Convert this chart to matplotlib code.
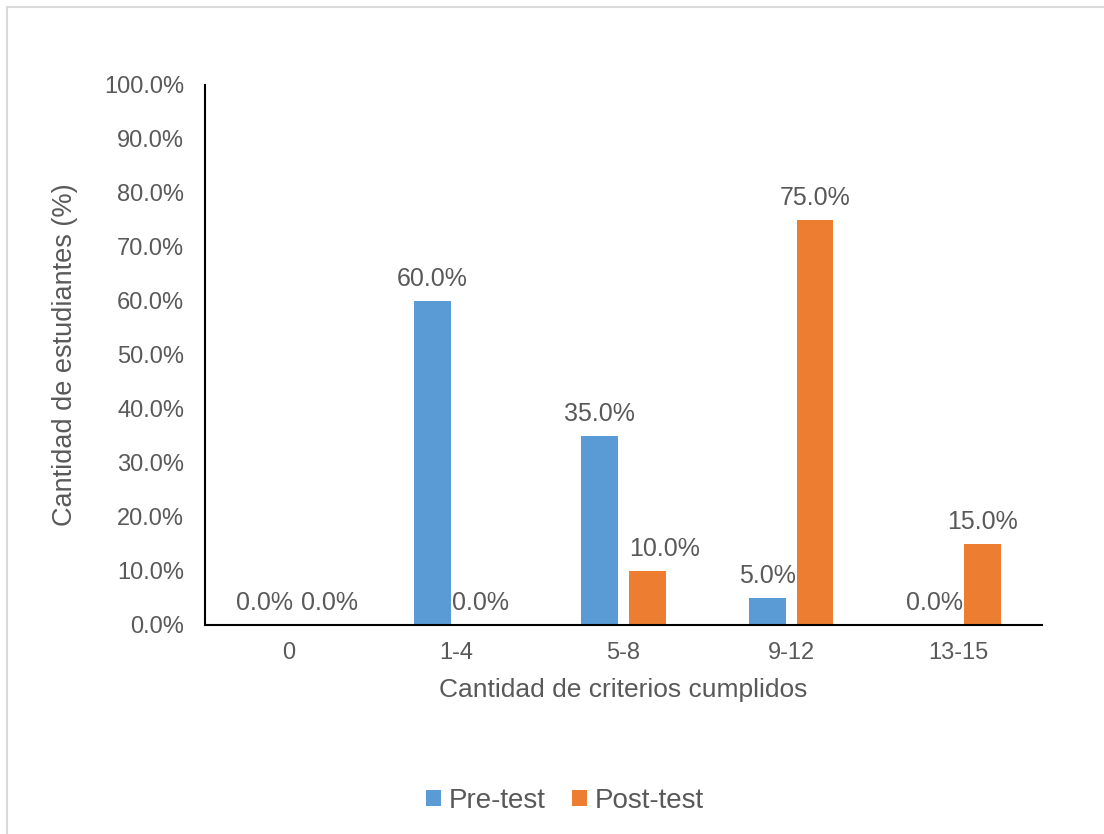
import matplotlib.pyplot as plt
import matplotlib.patches as patches
import matplotlib.ticker as ticker
import numpy as np

plt.rcParams["font.family"] = ["Liberation Sans", "DejaVu Sans"]

# datos
categorias = ["0", "1-4", "5-8", "9-12", "13-15"]
pre_test = [0.0, 60.0, 35.0, 5.0, 0.0]
post_test = [0.0, 0.0, 10.0, 75.0, 15.0]

azul = "#5B9BD5"
naranja = "#ED7D31"
gris = "#595959"

# desplazamiento horizontal (pt) de las etiquetas de Post-test que chocan
ajuste_post = [12, 0, 12, 0, 0]

fig = plt.figure(figsize=(11.04, 8.34), dpi=100)
ax = fig.add_axes([0.1857, 0.2506, 0.7583, 0.6475])

x = np.arange(len(categorias))
ancho = 0.22
b1 = ax.bar(x - 0.143, pre_test, ancho, color=azul, label="Pre-test")
b2 = ax.bar(x + 0.143, post_test, ancho, color=naranja, label="Post-test")

# etiquetas de valor sobre cada barra
for barras, ajustes in ((b1, [0] * len(x)), (b2, ajuste_post)):
    for b, dx in zip(barras, ajustes):
        v = b.get_height()
        ax.annotate("{:.1f}%".format(v), (b.get_x() + b.get_width() / 2, v),
                    xytext=(dx, 7.5), textcoords="offset points",
                    ha="center", va="bottom", fontsize=18, color=gris)

ax.set_xlim(-0.5, len(categorias) - 0.5)
ax.set_ylim(0, 100)
ax.yaxis.set_major_locator(ticker.MultipleLocator(10))
ax.yaxis.set_major_formatter(ticker.FuncFormatter(lambda v, p: "{:.1f}%".format(v)))
ax.set_xticks(x)
ax.set_xticklabels(categorias)
ax.tick_params(axis="both", length=0, labelsize=17, labelcolor=gris)
ax.tick_params(axis="y", pad=15)
ax.tick_params(axis="x", pad=12)

for lado in ("top", "right"):
    ax.spines[lado].set_visible(False)
for lado in ("left", "bottom"):
    ax.spines[lado].set_linewidth(1.5)
    ax.spines[lado].set_color("black")

ax.set_xlabel("Cantidad de criterios cumplidos", fontsize=19, color=gris, labelpad=10)
ax.set_ylabel("Cantidad de estudiantes (%)", fontsize=19.5, color=gris, labelpad=19)

fig.legend(loc="center", bbox_to_anchor=(0.512, 0.04), ncol=2, frameon=False,
           fontsize=20, labelcolor=gris, handlelength=0.52, handleheight=0.52,
           handletextpad=0.3, columnspacing=0.96)

# marco del area del grafico
marco = patches.Rectangle((6.5 / 1104, -0.2), 1.5, 0.2 + (834 - 7) / 834,
                          transform=fig.transFigure, fill=False,
                          edgecolor="#D9D9D9", linewidth=1.5)
fig.add_artist(marco)

plt.savefig("out.png")
